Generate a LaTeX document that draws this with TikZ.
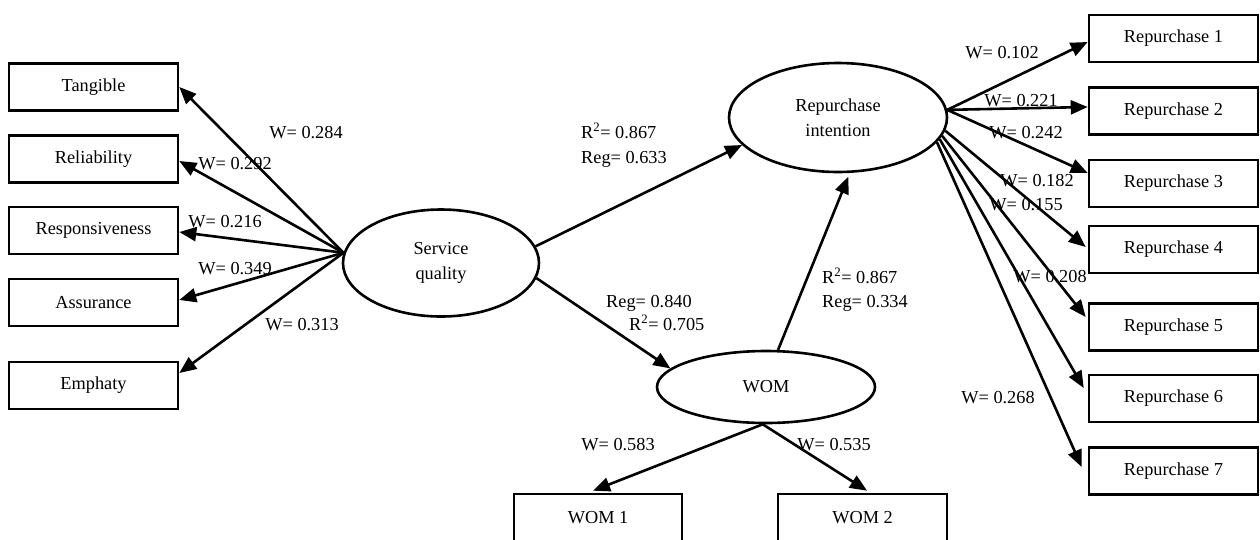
\documentclass[tikz,border=0pt]{standalone}
\usepackage{fontspec}
\setmainfont{Liberation Serif}
\usetikzlibrary{arrows.meta,calc,shapes.geometric}
\tikzset{
  box/.style={draw,line width=2.6pt,minimum width=169pt,minimum height=47pt,inner sep=0pt,align=center},
  lat/.style={draw,ellipse,line width=2.6pt,inner sep=0pt,align=center},
  arr/.style={line width=2.6pt,-{Triangle[length=17pt,width=14pt]}},
  lbl/.style={inner sep=0pt,anchor=base},
  lbll/.style={inner sep=0pt,anchor=base west},
}
\begin{document}
\begin{tikzpicture}[x=1pt,y=-1pt,font=\fontsize{18.3}{25}\selectfont]
\useasboundingbox (0,0) rectangle (1260,539);
\clip (0,0) rectangle (1260,539);
% left indicator boxes
\node[box] (tang) at (93.5,87) {Tangible};
\node[box] (rel) at (93.5,159) {Reliability};
\node[box] (resp) at (93.5,230.5) {Responsiveness};
\node[box] (assu) at (93.5,302.5) {Assurance};
\node[box] (emph) at (93.5,385.5) {Emphaty};
% latent variables
\node[lat,minimum width=196pt,minimum height=107pt] (sq) at (441,263) {Service\\quality};
\node[lat,minimum width=218pt,minimum height=109pt] (ri) at (838,117.5) {Repurchase\\intention};
\node[lat,minimum width=218pt,minimum height=72pt] (wom) at (766,387) {WOM};
% WOM boxes
\node[box,minimum width=168pt,minimum height=48pt] (w1) at (598,518) {WOM 1};
\node[box,minimum width=169pt,minimum height=48pt] (w2) at (862.5,518) {WOM 2};
% right boxes
\node[box] (r1) at (1173.5,38.5) {Repurchase 1};
\node[box] (r2) at (1173.5,111) {Repurchase 2};
\node[box] (r3) at (1173.5,183.5) {Repurchase 3};
\node[box] (r4) at (1173.5,249.5) {Repurchase 4};
\node[box] (r5) at (1173.5,327) {Repurchase 5};
\node[box] (r6) at (1173.5,398.5) {Repurchase 6};
\node[box] (r7) at (1173.5,471) {Repurchase 7};
% service quality -> dimensions
\draw[arr] (sq.174) -- (tang.east);
\draw[arr] (sq.174) -- ($(rel.east)+(0,2)$);
\draw[arr] (sq.174) -- ($(resp.east)+(0,1.5)$);
\draw[arr] (sq.174) -- ($(assu.east)+(0,-2.5)$);
\draw[arr] (sq.174) -- ($(emph.east)+(0,-12.5)$);
% structural paths
\draw[arr] (sq.10) -- (ri.196);
\draw[arr] (sq.-9) -- (wom.169);
\draw[arr,shorten >=4pt] (wom.72) -- (ri.-78);
% WOM indicators
\draw[arr] (wom.265) -- ($(w1.north)+(-5,-2)$);
\draw[arr] (wom.265) -- ($(w2.north)+(4.5,-2)$);
% repurchase indicators
\draw[arr] (ri.4) -- ($(r1.west)+(0,3.5)$);
\draw[arr] (ri.4) -- ($(r2.west)+(0,-4)$);
\draw[arr] (ri.4) -- ($(r3.west)+(0,-10.5)$);
\draw[arr] (ri.-7) -- ($(r4.west)+(-2,-2.5)$);
\draw[arr] (ri.-10) -- ($(r5.west)+(-2,-10)$);
\draw[arr] (ri.-12) -- ($(r6.west)+(-4,-10.5)$);
\draw[arr] (ri.-14) -- ($(r7.west)+(-6,-4)$);
% labels left
\node[lbl] (l1) at (306,138) {W= 0.284};
\node[lbl] (l2) at (235,169) {W= 0.292};
\node[lbl] (l3) at (225,227) {W= 0.216};
\node[lbl] (l4) at (235,274) {W= 0.349};
\node[lbl] (l5) at (302,330) {W= 0.313};
% structural labels
\node[lbll] (s1) at (581,138) {R\textsuperscript{2}= 0.867};
\node[lbll] (s2) at (581,163) {Reg= 0.633};
\node[lbll] (s3) at (606,307) {Reg= 0.840};
\node[lbll] (s4) at (629,330) {R\textsuperscript{2}= 0.705};
\node[lbll] (s5) at (822,283) {R\textsuperscript{2}= 0.867};
\node[lbll] (s6) at (822,307) {Reg= 0.334};
% WOM labels
\node[lbl] (m1) at (618,450) {W= 0.583};
\node[lbl] (m2) at (834,450) {W= 0.535};
% right labels
\node[lbl] (q1) at (1002,58) {W= 0.102};
\node[lbl] (q2) at (1021,106) {W= 0.221};
\node[lbl] (q3) at (1026,138) {W= 0.242};
\node[lbl] (q4) at (1037,186) {W= 0.182};
\node[lbl] (q5) at (1026,210) {W= 0.155};
\node[lbl] (q6) at (1050,282) {W= 0.208};
\node[lbl] (q7) at (998,403) {W= 0.268};
\end{tikzpicture}
\end{document}
